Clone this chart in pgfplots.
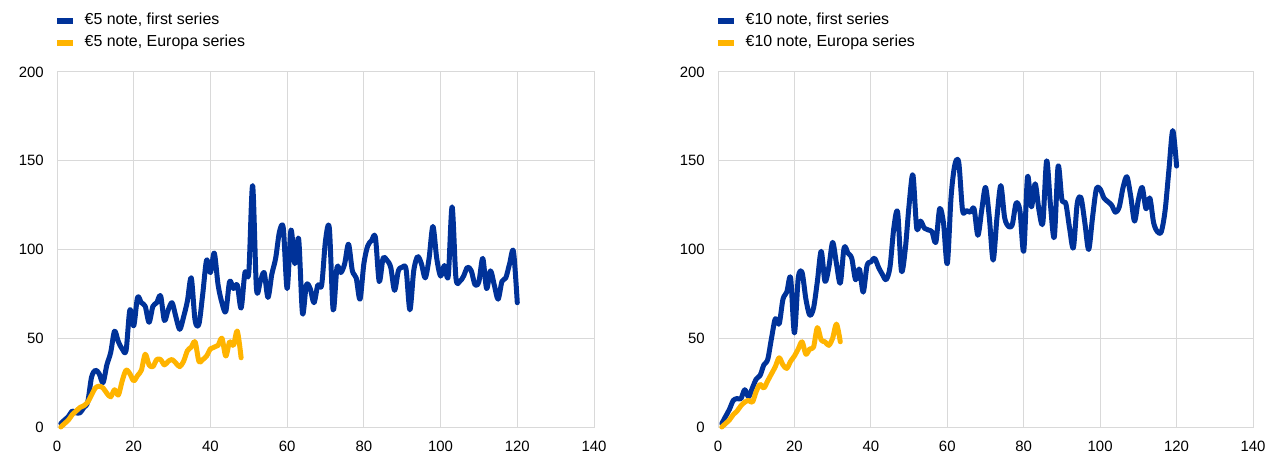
\documentclass[border=0pt]{standalone}
\usepackage{fontspec}
\setmainfont{Liberation Sans}
\usepackage{pgfplots}
\pgfplotsset{compat=1.18}

\definecolor{ecbblue}{RGB}{0,50,153}
\definecolor{ecbyellow}{RGB}{255,180,0}
\definecolor{gridgray}{RGB}{217,217,217}

\pgfplotsset{
  notes/.style={
    scale only axis, height=355bp,
    xmin=0, xmax=140, ymin=0, ymax=200,
    xtick={0,20,...,140}, ytick={0,50,...,200},
    grid=major, major grid style={gridgray, line width=1bp},
    axis line style={gridgray, line width=1bp},
    major tick length=0pt,
    tick label style={font=\fontsize{15}{18}\selectfont, inner sep=0pt},
    xticklabel style={yshift=-14bp},
    yticklabel style={xshift=-13bp},
    /pgf/number format/assume math mode=true,
    clip=false,
    legend cell align=left,
    legend style={draw=none, fill=none, at={(0,1)}, anchor=south west,
      xshift=-3bp, yshift=21bp, inner sep=0pt, font=\fontsize{16}{19}\selectfont,
      row sep=6bp, nodes={inner sep=0pt, text height=12bp, text depth=4bp},
      /tikz/every odd column/.append style={column sep=9bp}},
    legend image code/.code={\draw[line width=5.5bp, line cap=butt] (0bp,0bp) -- (16bp,0bp);},
  },
  ser/.style={line width=5bp, smooth, tension=0.5, line join=round, line cap=round},
}

\begin{document}
\begin{tikzpicture}
\path[use as bounding box] (0,0) rectangle (1269bp,461bp);

% EUR 5
\begin{axis}[notes, width=537bp, at={(57bp,34bp)}, anchor=south west]
\addplot[ser, ecbblue] coordinates {
(1,2)(2,4)(3,6)(4,9)(5,8)(6,8)(7,11)(8,14)(9,28)(10,32)
(11,30)(12,25)(13,35)(14,42)(15,54)(16,48)(17,44)(18,43)(19,66)(20,57)
(21,73)(22,70)(23,68)(24,59)(25,68)(26,70)(27,74)(28,60)(29,66)(30,70)
(31,62)(32,55)(33,62)(34,71)(35,84)(36,60)(37,58)(38,75)(39,94)(40,87)
(41,98)(42,80)(43,70)(44,65)(45,82)(46,78)(47,80)(48,67)(49,87)(50,87)
(51,136)(52,78)(53,82)(54,87)(55,73)(56,86)(57,95)(58,110)(59,112)(60,78)
(61,111)(62,92)(63,106)(64,64)(65,80)(66,78)(67,70)(68,80)(69,80)(70,105)
(71,112)(72,66)(73,90)(74,87)(75,92)(76,103)(77,88)(78,84)(79,72)(80,92)
(81,102)(82,105)(83,107)(84,82)(85,95)(86,94)(87,90)(88,77)(89,88)(90,90)
(91,89)(92,66)(93,88)(94,96)(95,92)(96,84)(97,95)(98,113)(99,95)(100,85)
(101,91)(102,85)(103,124)(104,84)(105,82)(106,85)(107,90)(108,88)(109,80)(110,82)
(111,95)(112,78)(113,88)(114,80)(115,72)(116,82)(117,84)(118,92)(119,99)(120,70)
};
\addlegendentry{€5 note, first series}
\addplot[ser, ecbyellow] coordinates {
(1,0)(2,2)(3,4)(4,7)(5,9)(6,11)(7,12)(8,14)(9,18)(10,22)
(11,23)(12,22)(13,19)(14,17)(15,21)(16,18)(17,26)(18,32)(19,30)(20,26)
(21,29)(22,32)(23,41)(24,35)(25,34)(26,38)(27,38)(28,35)(29,37)(30,38)
(31,36)(32,34)(33,37)(34,43)(35,45)(36,48)(37,37)(38,38)(39,40)(40,44)
(41,45)(42,46)(43,50)(44,40)(45,48)(46,46)(47,54)(48,39)
};
\addlegendentry{€5 note, Europa series}
\end{axis}

% EUR 10
\begin{axis}[notes, width=535bp, at={(718bp,34bp)}, anchor=south west]
\addplot[ser, ecbblue] coordinates {
(1,2)(2,6)(3,10)(4,15)(5,16)(6,16)(7,21)(8,17)(9,22)(10,27)
(11,29)(12,35)(13,38)(14,50)(15,61)(16,58)(17,72)(18,76)(19,84)(20,53)
(21,84)(22,87)(23,72)(24,63)(25,67)(26,82)(27,99)(28,82)(29,90)(30,104)
(31,92)(32,81)(33,101)(34,98)(35,95)(36,83)(37,89)(38,76)(39,91)(40,93)
(41,95)(42,90)(43,86)(44,83)(45,90)(46,112)(47,121)(48,88)(49,100)(50,125)
(51,142)(52,112)(53,116)(54,112)(55,111)(56,110)(57,104)(58,123)(59,115)(60,92)
(61,130)(62,148)(63,149)(64,122)(65,122)(66,121)(67,123)(68,108)(69,122)(70,135)
(71,118)(72,94)(73,118)(74,136)(75,118)(76,113)(77,114)(78,126)(79,122)(80,99)
(81,141)(82,124)(83,137)(84,122)(85,115)(86,150)(87,125)(88,107)(89,147)(90,128)
(91,126)(92,112)(93,101)(94,126)(95,129)(96,115)(97,100)(98,118)(99,134)(100,134)
(101,129)(102,127)(103,125)(104,121)(105,124)(106,135)(107,141)(108,130)(109,116)(110,128)
(111,135)(112,123)(113,129)(114,115)(115,110)(116,110)(117,122)(118,145)(119,167)(120,147)
};
\addlegendentry{€10 note, first series}
\addplot[ser, ecbyellow] coordinates {
(1,0)(2,2)(3,4)(4,7)(5,9)(6,12)(7,14)(8,15)(9,14)(10,20)
(11,24)(12,22)(13,26)(14,30)(15,34)(16,39)(17,35)(18,33)(19,37)(20,40)
(21,44)(22,48)(23,41)(24,44)(25,45)(26,56)(27,49)(28,48)(29,46)(30,50)
(31,58)(32,48)
};
\addlegendentry{€10 note, Europa series}
\end{axis}
\end{tikzpicture}
\end{document}
